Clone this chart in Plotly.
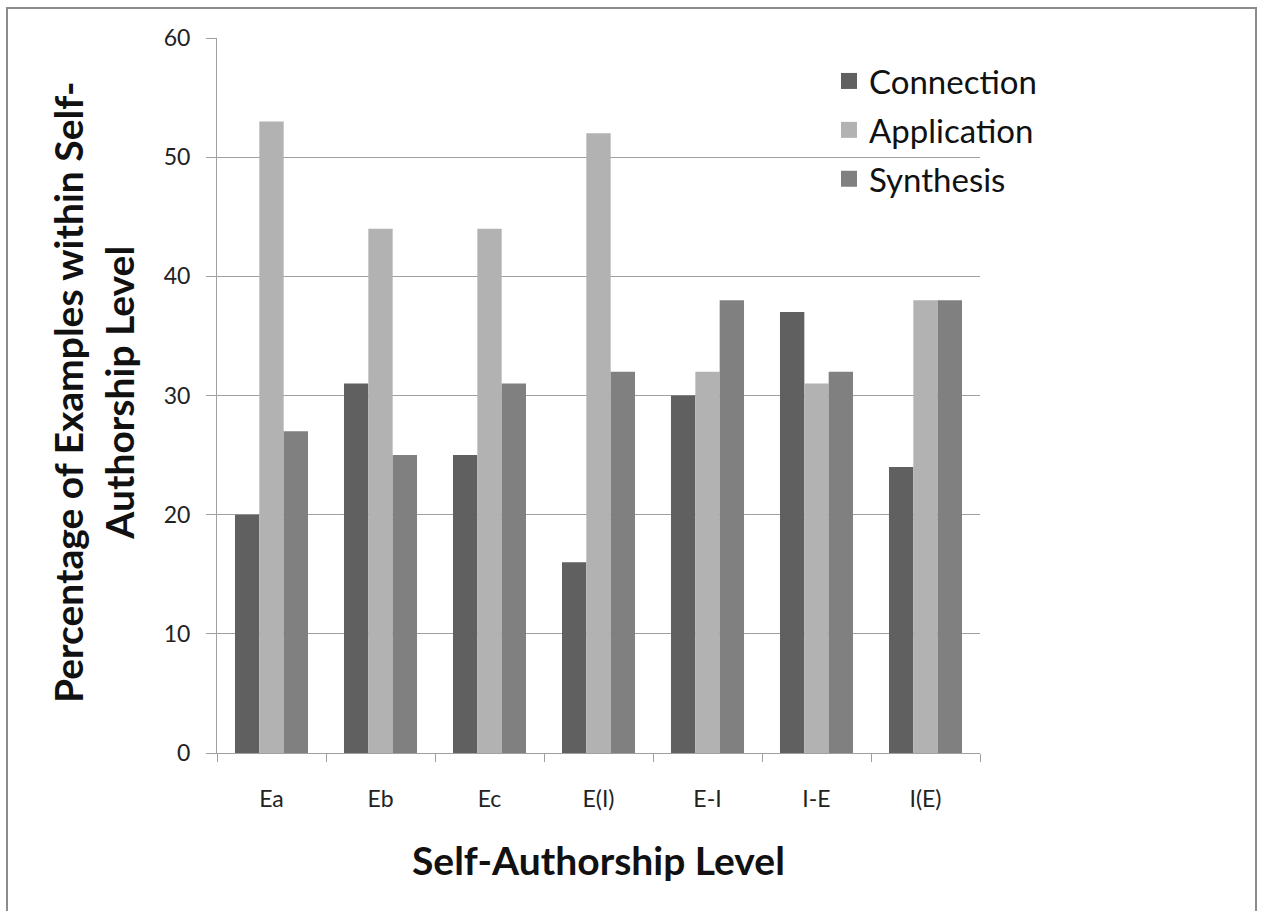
import plotly.graph_objects as go

categories = ["Ea", "Eb", "Ec", "E(I)", "E-I", "I-E", "I(E)"]
connection = [20, 31, 25, 16, 30, 37, 24]
application = [53, 44, 44, 52, 32, 31, 38]
synthesis = [27, 25, 31, 32, 38, 32, 38]

series_names = ["Connection", "Application", "Synthesis"]
series_colors = ["#606060", "#b2b2b2", "#808080"]

FONT = "Lato, 'Open Sans', sans-serif"

fig = go.Figure()
for name, vals, col in zip(series_names, [connection, application, synthesis], series_colors):
    fig.add_trace(go.Bar(x=categories, y=vals, name=name, showlegend=False,
                         marker=dict(color=col, line=dict(width=0))))
# legend entries with larger square swatches
for name, col in zip(series_names, series_colors):
    fig.add_trace(go.Scatter(x=[None], y=[None], mode="markers", name=name, legendgroup=name,
                             marker=dict(symbol="square", size=20, color=col), showlegend=True))

W, H = 1261, 911
L, R, T, B = 217, 281, 38, 158
pw, ph = W - L - R, H - T - B

def px_x(p):
    return (p - L) / pw

def px_y(p):
    return (H - B - p) / ph

fig.update_layout(
    width=W, height=H,
    margin=dict(l=L, r=R, t=T, b=B),
    paper_bgcolor="white", plot_bgcolor="white",
    barmode="group", bargap=0.33, bargroupgap=0,
    font=dict(family=FONT, color="#222222"),
    showlegend=True,
    legend=dict(x=px_x(829), y=px_y(53), xanchor="left", yanchor="top",
                font=dict(size=33, color="#111111", family=FONT),
                bgcolor="rgba(0,0,0,0)", traceorder="grouped", tracegroupgap=3,
                itemwidth=30, itemsizing="trace"),
    xaxis=dict(showgrid=False, showline=True, linecolor="#a0a0a0", linewidth=1,
               ticks="outside", tickson="boundaries", ticklen=8, tickcolor="#a0a0a0",
               tickfont=dict(size=23, color="#222222"), ticklabelstandoff=25),
    yaxis=dict(range=[0, 60], dtick=10, showgrid=True, gridcolor="#a0a0a0", gridwidth=1,
               showline=True, linecolor="#a0a0a0", linewidth=1,
               ticks="outside", ticklen=10, tickcolor="#a0a0a0",
               tickfont=dict(size=23, color="#222222"), ticklabelstandoff=11, zeroline=False),
    annotations=[
        dict(text="<b>Percentage of Examples within Self-<br>Authorship Level</b>",
             xref="paper", yref="paper", x=px_x(94), y=px_y(393), xanchor="center", yanchor="middle",
             textangle=-90, showarrow=False, font=dict(size=39, color="#111111", family=FONT)),
        dict(text="<b>Self-Authorship Level</b>",
             xref="paper", yref="paper", x=0.5, y=px_y(860), xanchor="center", yanchor="middle",
             showarrow=False, font=dict(size=39, color="#111111", family=FONT)),
    ],
    shapes=[
        dict(type="rect", xref="paper", yref="paper",
             x0=px_x(7), x1=px_x(1256), y0=px_y(930), y1=px_y(8),
             line=dict(color="#8c8c8c", width=2), fillcolor="rgba(0,0,0,0)", layer="below"),
    ],
)

fig.write_html("out.html", config={"displayModeBar": False},
               post_script="document.body.style.margin='0';document.body.style.padding='0';")
